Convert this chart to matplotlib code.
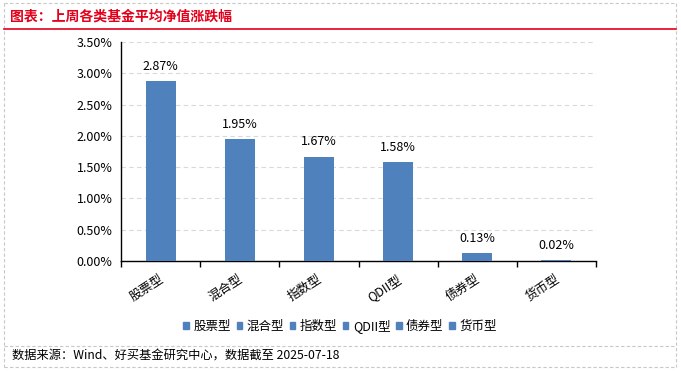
import matplotlib
matplotlib.use("Agg")
import matplotlib.pyplot as plt
from matplotlib.lines import Line2D
from matplotlib.patches import Rectangle
from matplotlib.ticker import FuncFormatter, MultipleLocator
import matplotlib.transforms as mtransforms

plt.rcParams['font.family'] = ['Noto Sans CJK SC', 'DejaVu Sans']

categories = ['股票型', '混合型', '指数型', 'QDII型', '债券型', '货币型']
values = [2.87, 1.95, 1.67, 1.58, 0.13, 0.02]
labels = ['2.87%', '1.95%', '1.67%', '1.58%', '0.13%', '0.02%']

bar_color = '#4F81BD'
W, H = 681, 371
fig = plt.figure(figsize=(W/100, H/100), dpi=100)

def fx(px):
    return px / W
def fy(py):
    return 1 - py / H

# outer dashed borders
border = dict(color='#C8C8C8', lw=0.8, ls=(0, (3, 2)), transform=fig.transFigure)
fig.add_artist(Line2D([fx(4), fx(676)], [fy(3), fy(3)], **border))
fig.add_artist(Line2D([fx(4), fx(4)], [fy(3), fy(367)], **border))
fig.add_artist(Line2D([fx(676), fx(676)], [fy(3), fy(367)], **border))
fig.add_artist(Line2D([fx(4), fx(676)], [fy(346), fy(346)], **border))
fig.add_artist(Line2D([fx(4), fx(676)], [fy(367), fy(367)], **border))

# title and red line
fig.text(fx(10), fy(17), '图表：上周各类基金平均净值涨跌幅', color='#E2001A',
         fontsize=10, fontweight='bold', va='center', ha='left')
fig.add_artist(Line2D([fx(4), fx(676)], [fy(29), fy(29)], color='#E2001A', lw=1.2,
                      transform=fig.transFigure))

ax = fig.add_axes([fx(121), fy(261), fx(596) - fx(121), fy(42) - fy(261)])
x = list(range(len(categories)))
ax.bar(x, values, width=0.38, color=bar_color, zorder=3)
ax.set_xlim(-0.5, len(categories) - 0.5)
ax.set_ylim(0, 3.5)
ax.yaxis.set_major_locator(MultipleLocator(0.5))
ax.yaxis.set_major_formatter(FuncFormatter(lambda v, p: f'{v:.2f}%'))
ax.grid(axis='y', color='#D9D9D9', ls=(0, (4, 3)), lw=0.8, zorder=0)
for s in ['top', 'right']:
    ax.spines[s].set_visible(False)
ax.spines['left'].set_linewidth(1.0)
ax.spines['bottom'].set_linewidth(1.0)
ax.tick_params(axis='y', length=0, labelsize=9, pad=6)

ax.set_xticks(x)
ax.set_xticklabels(categories, rotation=33, ha='right', rotation_mode='anchor', fontsize=9)
ax.tick_params(axis='x', length=0, pad=8)
ax.set_xticks([i - 0.5 for i in range(len(categories) + 1)], minor=True)
ax.tick_params(axis='x', which='minor', length=4, width=1.0, direction='out')

for xi, v, lab in zip(x, values, labels):
    ax.text(xi, v + 0.13, lab, ha='center', va='bottom', fontsize=9)

offset = mtransforms.ScaledTranslation(-2/100, 0, fig.dpi_scale_trans)
for t in ax.get_xticklabels():
    t.set_transform(t.get_transform() + offset)

handles = [Rectangle((0, 0), 1, 1, color=bar_color) for _ in categories]
fig.legend(handles, categories, loc='center', bbox_to_anchor=(fx(340), fy(326)),
           ncol=6, frameon=False, fontsize=9, handlelength=0.45, handleheight=0.45,
           handletextpad=0.35, columnspacing=0.45)

fig.text(fx(12), fy(356), '数据来源：Wind、好买基金研究中心，数据截至 2025-07-18',
         fontsize=8.8, va='center', ha='left')

fig.savefig('out.png', dpi=100)
